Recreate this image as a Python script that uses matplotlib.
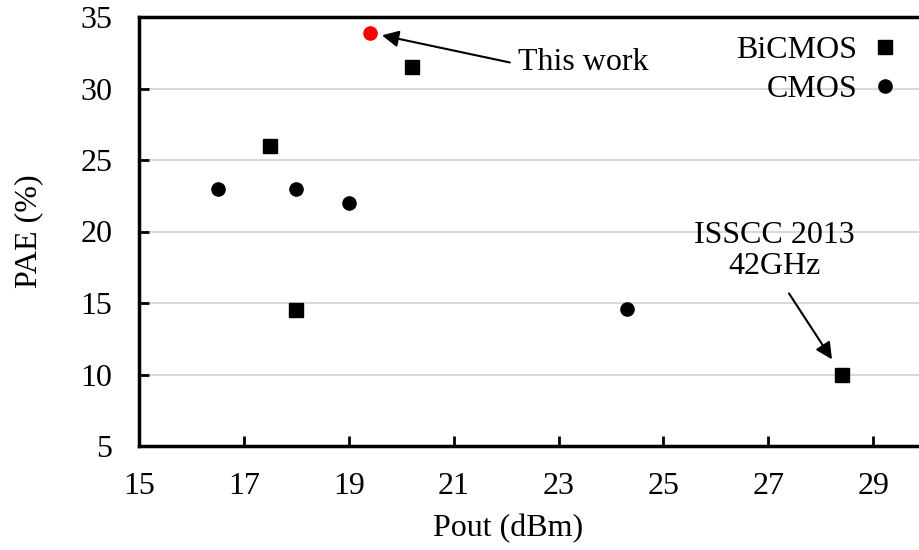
import matplotlib
matplotlib.use("Agg")
import matplotlib.pyplot as plt

plt.rcParams['font.family'] = ['Liberation Serif', 'DejaVu Serif']
plt.rcParams['font.size'] = 23

# Pout (dBm) vs PAE (%) for published PAs
bicmos_pout = [17.5, 18.0, 20.2, 28.4]
bicmos_pae = [26.0, 14.5, 31.5, 10.0]
cmos_pout = [16.5, 18.0, 19.0, 24.3]
cmos_pae = [23.0, 23.0, 22.0, 14.6]
this_pout = [19.4]
this_pae = [33.9]
isscc_pout = 28.4
isscc_pae = 10.0

xticks = [15, 17, 19, 21, 23, 25, 27, 29]
yticks = [5, 10, 15, 20, 25, 30, 35]

fig = plt.figure(figsize=(9.19, 5.5), dpi=100)
ax = fig.add_axes([139 / 919, 1 - 446 / 550, (919 - 139) / 919, (446 - 17) / 550])

ax.plot(bicmos_pout, bicmos_pae, 's', color='black', markersize=10, label='BiCMOS', zorder=3)
ax.plot(cmos_pout, cmos_pae, 'o', color='black', markersize=9.5, label='CMOS', zorder=3)
ax.plot(this_pout, this_pae, 'o', color='red', markersize=9.5, zorder=3)

ax.set_xlim(15, 15 + (919 - 139) / 52.45)
ax.set_ylim(5, 35)
ax.set_xticks(xticks)
ax.set_yticks(yticks)
ax.yaxis.grid(True, color='#d9d9d9', linewidth=1.5)
ax.set_axisbelow(True)

for s in ['left', 'bottom', 'top']:
    ax.spines[s].set_linewidth(2.5)
ax.spines['right'].set_visible(False)
ax.tick_params(direction='in', length=7, width=2)
ax.tick_params(axis='x', pad=19)
ax.tick_params(axis='y', pad=19)

ax.set_xlabel('Pout (dBm)')
ax.xaxis.set_label_coords(0.473, -0.158)
ax.set_ylabel('PAE (%)')
ax.yaxis.set_label_coords(-0.123, 0.5)

ax.annotate('This work', xy=(this_pout[0], this_pae[0]), xytext=(23.47, 31.8),
            ha='center', va='center',
            arrowprops=dict(arrowstyle='-|>', color='black', lw=1.5, relpos=(0, 0.45),
                            mutation_scale=25, shrinkA=4, shrinkB=9))
ax.annotate('ISSCC 2013\n42GHz', xy=(isscc_pout, isscc_pae), xytext=(27.12, 18.62),
            ha='center', va='center', linespacing=1.1,
            arrowprops=dict(arrowstyle='-|>', color='black', lw=1.5, relpos=(0.54, 0),
                            mutation_scale=25, shrinkA=8, shrinkB=13))

ax.legend(loc='upper right', frameon=False, markerfirst=False, handletextpad=0.375,
          borderaxespad=0, labelspacing=0.3, handlelength=1.0,
          bbox_to_anchor=(1 - 5 / 780, 1 - 6 / 429))

fig.savefig('out.png', dpi=100)
